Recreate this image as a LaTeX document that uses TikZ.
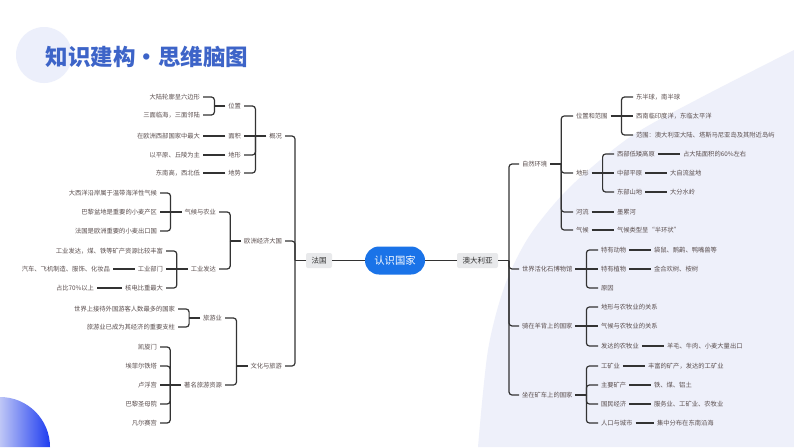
\documentclass[tikz,border=0pt]{standalone}
\usepackage{fontspec}
\setmainfont{Noto Sans CJK SC}
\definecolor{linkgray}{HTML}{333333}
\definecolor{txtgray}{HTML}{5A4E4E}
\definecolor{mapblue}{HTML}{1A73E8}
\definecolor{tagfill}{HTML}{E8E9EB}
\definecolor{bglav}{HTML}{EEF0FA}
\definecolor{ringlav}{HTML}{ECEFFB}
\definecolor{titleblue}{HTML}{3D64C8}
\tikzset{
  item/.style={font=\fontsize{6.3}{7}\selectfont, text=txtgray, inner xsep=3pt, inner ysep=1pt, outer sep=0pt},
  itemL/.style={item, anchor=east},
  itemR/.style={item, anchor=west},
  tag/.style={font=\fontsize{7.5}{9}\selectfont, text=black!80, fill=tagfill, rounded corners=2pt, inner xsep=5.5pt, inner ysep=0pt, minimum height=15pt, outer sep=0pt},
  hub/.style={font=\fontsize{10.3}{12}\selectfont, text=white, fill=mapblue, rounded corners=14pt, minimum width=60pt, minimum height=28pt, outer sep=0pt},
  link/.style={draw=linkgray, line width=1.2pt, rounded corners=3pt},
}
\newcommand{\armL}[2]{\draw[link] (#1.west) ++(-11,0) |- (#2.east);}
\newcommand{\armR}[2]{\draw[link] (#1.east) ++(11,0) |- (#2.west);}

\begin{document}
\begin{tikzpicture}[x=1pt,y=-1pt]
\useasboundingbox (0,0) rectangle (794,447);
\fill[white] (0,0) rectangle (794,447);
\fill[bglav] plot[smooth] coordinates {(794,50) (700,98) (630,137) (570,187) (530,235) (505,285) (488,350) (478,447)} -- (794,447) -- cycle;
\fill[ringlav] (44,55) circle (28pt);
\shade[left color={rgb,255:red,190;green,198;blue,246}, right color={rgb,255:red,30;green,60;blue,240}] (0,447) -- (0,397) arc[start angle=90, end angle=0, radius=50pt] -- cycle;
\node[font=\fontsize{22.5}{24}\selectfont\bfseries, text=titleblue] (title) at (147,57) {知识建构・思维脑图};

\node[hub] (hub) at (395,260.5) {认识国家};
\node[tag] (fr) at (319,260.5) {法国};
\node[tag] (au) at (477.5,260.5) {澳大利亚};
\draw[link] (fr.east) -- (hub.west);
\draw[link] (hub.east) -- (au.west);

\node[itemL] (gk) at (285,136) {概况};
\node[itemL] (oz) at (285,241) {欧洲经济大国};
\node[itemL] (wh) at (285,366) {文化与旅游};
\node[itemL] (wz) at (244,106) {位置};
\node[itemL] (mj) at (244,136) {面积};
\node[itemL] (dx) at (244,155) {地形};
\node[itemL] (ds) at (244,173) {地势};
\node[itemL] (wz1) at (203,97) {大陆轮廓呈六边形};
\node[itemL] (wz2) at (203,115) {三面临海，三面邻陆};
\node[itemL] (mj1) at (203,136) {在欧洲西部国家中最大};
\node[itemL] (dx1) at (203,155) {以平原、丘陵为主};
\node[itemL] (ds1) at (203,173) {东南高，西北低};
\node[itemL] (qh) at (219,212) {气候与农业};
\node[itemL] (gy) at (219,269) {工业发达};
\node[itemL] (qh1) at (160,193) {大西洋沿岸属于温带海洋性气候};
\node[itemL] (qh2) at (160,212) {巴黎盆地是重要的小麦产区};
\node[itemL] (qh3) at (160,231) {法国是欧洲重要的小麦出口国};
\node[itemL] (gy1) at (166,251) {工业发达，煤、铁等矿产资源比较丰富};
\node[itemL] (gy2) at (166,269) {工业部门};
\node[itemL] (gy3) at (166,288) {核电比重最大};
\node[itemL] (gy21) at (113,269) {汽车、飞机制造、服饰、化妆品};
\node[itemL] (gy31) at (97,288) {占比70\%以上};
\node[itemL] (ly) at (225,318) {旅游业};
\node[itemL] (zm) at (225,385) {著名旅游资源};
\node[itemL] (ly1) at (178,309) {世界上接待外国游客人数最多的国家};
\node[itemL] (ly2) at (178,327) {旅游业已成为其经济的重要支柱};
\node[itemL] (zm1) at (160,347) {凯旋门};
\node[itemL] (zm2) at (160,366) {埃菲尔铁塔};
\node[itemL] (zm3) at (160,385) {卢浮宫};
\node[itemL] (zm4) at (160,404) {巴黎圣母院};
\node[itemL] (zm5) at (160,423) {凡尔赛宫};

\draw[link] (fr.west) -- ++(-11,0);
\foreach \c in {gk,oz,wh} \armL{fr}{\c};
\draw[link] (gk.west) -- (mj.east);
\foreach \c in {wz,dx,ds} \armL{gk}{\c};
\draw[link] (wz.west) -- ++(-11,0);
\foreach \c in {wz1,wz2} \armL{wz}{\c};
\foreach \a/\b in {mj/mj1,dx/dx1,ds/ds1,gy2/gy21,gy3/gy31} \draw[link] (\a.west) -- (\b.east);
\draw[link] (oz.west) -- ++(-11,0);
\foreach \c in {qh,gy} \armL{oz}{\c};
\draw[link] (qh.west) -- (qh2.east);
\foreach \c in {qh1,qh3} \armL{qh}{\c};
\draw[link] (gy.west) -- (gy2.east);
\foreach \c in {gy1,gy3} \armL{gy}{\c};
\draw[link] (wh.west) -- ++(-11,0);
\foreach \c in {ly,zm} \armL{wh}{\c};
\draw[link] (ly.west) -- ++(-11,0);
\foreach \c in {ly1,ly2} \armL{ly}{\c};
\draw[link] (zm.west) -- (zm3.east);
\foreach \c in {zm1,zm2,zm4,zm5} \armL{zm}{\c};

\node[itemR] (zr) at (519,164) {自然环境};
\node[itemR] (hs) at (519,269) {世界活化石博物馆};
\node[itemR] (yb) at (519,326) {骑在羊背上的国家};
\node[itemR] (kc) at (519,395) {坐在矿车上的国家};
\node[itemR] (wf) at (573,116) {位置和范围};
\node[itemR] (dxr) at (573,173) {地形};
\node[itemR] (hl) at (573,212) {河流};
\node[itemR] (qhr) at (573,230) {气候};
\node[itemR] (wf1) at (633,97) {东半球，南半球};
\node[itemR] (wf2) at (633,116) {西南临印度洋，东临太平洋};
\node[itemR] (wf3) at (633,135) {范围：澳大利亚大陆、塔斯马尼亚岛及其附近岛屿};
\node[itemR] (dxr1) at (614,154) {西部低矮高原};
\node[itemR] (dxr2) at (614,173) {中部平原};
\node[itemR] (dxr3) at (614,192) {东部山地};
\node[itemR] (dxr11) at (680,154) {占大陆面积的60\%左右};
\node[itemR] (dxr21) at (667,173) {大自流盆地};
\node[itemR] (dxr31) at (667,192) {大分水岭};
\node[itemR] (hl1) at (614,212) {墨累河};
\node[itemR] (qhr1) at (614,230) {气候类型呈“半环状”};
\node[itemR] (hs1) at (598,250) {特有动物};
\node[itemR] (hs2) at (598,269) {特有植物};
\node[itemR] (hs3) at (598,288) {原因};
\node[itemR] (hs11) at (651,250) {袋鼠、鸸鹋、鸭嘴兽等};
\node[itemR] (hs21) at (651,269) {金合欢树、桉树};
\node[itemR] (yb1) at (598,307) {地形与农牧业的关系};
\node[itemR] (yb2) at (598,326) {气候与农牧业的关系};
\node[itemR] (yb3) at (598,346) {发达的农牧业};
\node[itemR] (yb31) at (664,346) {羊毛、牛肉、小麦大量出口};
\node[itemR] (kc1) at (598,366) {工矿业};
\node[itemR] (kc2) at (598,385) {主要矿产};
\node[itemR] (kc3) at (598,404) {国民经济};
\node[itemR] (kc4) at (598,423) {人口与城市};
\node[itemR] (kc11) at (645,366) {丰富的矿产，发达的工矿业};
\node[itemR] (kc21) at (651,385) {铁、煤、铝土};
\node[itemR] (kc31) at (651,404) {服务业、工矿业、农牧业};
\node[itemR] (kc41) at (654,423) {集中分布在东南沿海};

\draw[link] (au.east) -- ++(11,0);
\foreach \c in {zr,hs,yb,kc} \armR{au}{\c};
\draw[link] (zr.east) -- ++(11,0);
\foreach \c in {wf,dxr,hl,qhr} \armR{zr}{\c};
\draw[link] (wf.east) -- (wf2.west);
\foreach \c in {wf1,wf3} \armR{wf}{\c};
\draw[link] (dxr.east) -- (dxr2.west);
\foreach \c in {dxr1,dxr3} \armR{dxr}{\c};
\draw[link] (hs.east) -- (hs2.west);
\foreach \c in {hs1,hs3} \armR{hs}{\c};
\draw[link] (yb.east) -- (yb2.west);
\foreach \c in {yb1,yb3} \armR{yb}{\c};
\draw[link] (kc.east) -- ++(11,0);
\foreach \c in {kc1,kc2,kc3,kc4} \armR{kc}{\c};
\foreach \a/\b in {dxr1/dxr11,dxr2/dxr21,dxr3/dxr31,hl/hl1,qhr/qhr1,hs1/hs11,hs2/hs21,yb3/yb31,kc1/kc11,kc2/kc21,kc3/kc31,kc4/kc41} \draw[link] (\a.east) -- (\b.west);
\end{tikzpicture}
\end{document}
